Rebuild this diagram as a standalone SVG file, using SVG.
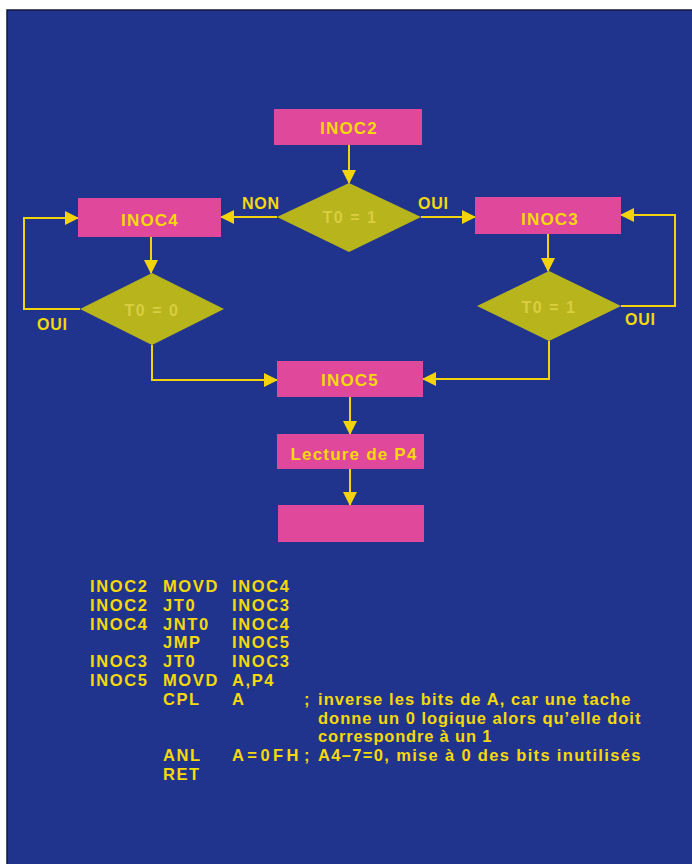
<svg xmlns="http://www.w3.org/2000/svg" width="692" height="864" viewBox="0 0 692 864">
<defs>
<marker id="ah" viewBox="0 0 14 14" refX="13" refY="7" markerWidth="14" markerHeight="14" markerUnits="userSpaceOnUse" orient="auto">
<path d="M0,0 L14,7 L0,14 Z" fill="#f2d30c"/>
</marker>
<style>
.box{fill:#e0489b}
.dia{fill:#b8b41c}
.lbl{font-family:"Liberation Sans",Arial,sans-serif;font-weight:bold;font-size:17px;fill:#f5d90a;letter-spacing:1.2px;text-anchor:middle}
.dtx{font-family:"Liberation Sans",Arial,sans-serif;font-weight:bold;font-size:16px;fill:#d8ce40;letter-spacing:1.5px;text-anchor:middle}
.yn{font-family:"Liberation Sans",Arial,sans-serif;font-weight:bold;font-size:16px;fill:#f5d90a;letter-spacing:0.8px}
.code{font-family:"Liberation Sans",Arial,sans-serif;font-weight:bold;font-size:16.5px;fill:#f5d90a;letter-spacing:1.6px}
.ln{fill:none;stroke:#f2d30c;stroke-width:2}
</style>
</defs>
<rect x="0" y="0" width="692" height="864" fill="#ffffff"/>
<rect x="7" y="10" width="686" height="856" fill="#21348d" stroke="#10183a" stroke-width="1.5"/>

<g id="connectors">
<path class="ln" d="M349,145 L349,183" marker-end="url(#ah)"/>
<path class="ln" d="M277,217 L221,217" marker-end="url(#ah)"/>
<path class="ln" d="M421,217 L475,217" marker-end="url(#ah)"/>
<path class="ln" d="M151,237 L151,273" marker-end="url(#ah)"/>
<path class="ln" d="M80,309 L24,309 L24,218 L78,218" marker-end="url(#ah)"/>
<path class="ln" d="M152,345 L152,380 L277,380" marker-end="url(#ah)"/>
<path class="ln" d="M548,234 L548,271" marker-end="url(#ah)"/>
<path class="ln" d="M621,306 L675,306 L675,215 L621,215" marker-end="url(#ah)"/>
<path class="ln" d="M549,341 L549,379 L423,379" marker-end="url(#ah)"/>
<path class="ln" d="M350,397 L350,434" marker-end="url(#ah)"/>
<path class="ln" d="M350,469 L350,505" marker-end="url(#ah)"/>
<text class="yn" x="242" y="209">NON</text>
<text class="yn" x="418" y="209">OUI</text>
<text class="yn" x="37" y="330">OUI</text>
<text class="yn" x="625" y="325">OUI</text>
</g>

<g id="inoc2"><rect class="box" x="274" y="109" width="148" height="36"/><text class="lbl" x="349" y="134">INOC2</text></g>
<g id="test1"><polygon class="dia" points="349,183 421,217 349,252 277,217"/><text class="dtx" x="350" y="223">T0 = 1</text></g>
<g id="inoc4"><rect class="box" x="78" y="198" width="143" height="39"/><text class="lbl" x="150" y="226">INOC4</text></g>
<g id="inoc3"><rect class="box" x="475" y="197" width="146" height="37"/><text class="lbl" x="550" y="225">INOC3</text></g>
<g id="test2"><polygon class="dia" points="152,273 224,309 152,345 80,309"/><text class="dtx" x="152" y="316">T0 = 0</text></g>
<g id="test3"><polygon class="dia" points="549,271 621,306 549,341 477,306"/><text class="dtx" x="549" y="313">T0 = 1</text></g>
<g id="inoc5"><rect class="box" x="277" y="361" width="146" height="36"/><text class="lbl" x="350" y="386">INOC5</text></g>
<g id="lecture"><rect class="box" x="277" y="434" width="147" height="35"/><text class="lbl" x="354" y="460">Lecture de P4</text></g>
<g id="end"><rect class="box" x="278" y="505" width="146" height="37"/></g>

<g id="listing">
<text class="code" x="90" y="592">INOC2</text><text class="code" x="163" y="592">MOVD</text><text class="code" x="232" y="592">INOC4</text>
<text class="code" x="90" y="610.8">INOC2</text><text class="code" x="163" y="610.8">JT0</text><text class="code" x="232" y="610.8">INOC3</text>
<text class="code" x="90" y="629.6">INOC4</text><text class="code" x="163" y="629.6">JNT0</text><text class="code" x="232" y="629.6">INOC4</text>
<text class="code" x="163" y="648.4">JMP</text><text class="code" x="232" y="648.4">INOC5</text>
<text class="code" x="90" y="667.2">INOC3</text><text class="code" x="163" y="667.2">JT0</text><text class="code" x="232" y="667.2">INOC3</text>
<text class="code" x="90" y="686">INOC5</text><text class="code" x="163" y="686">MOVD</text><text class="code" x="232" y="686">A,P4</text>
<text class="code" x="163" y="704.8">CPL</text><text class="code" x="232" y="704.8">A</text>
<text class="code" x="304" y="704.8">;</text><text class="code" x="318" y="704.8" textLength="314" lengthAdjust="spacing">inverse les bits de A, car une tache</text>
<text class="code" x="318" y="723.6" textLength="324" lengthAdjust="spacing">donne un 0 logique alors qu’elle doit</text>
<text class="code" x="318" y="742.4" textLength="175" lengthAdjust="spacing">correspondre à un 1</text>
<text class="code" x="163" y="761.2">ANL</text><text class="code" x="232" y="761.2" textLength="68" lengthAdjust="spacing">A=0FH</text>
<text class="code" x="304" y="761.2">;</text><text class="code" x="318" y="761.2" textLength="324" lengthAdjust="spacing">A4–7=0, mise à 0 des bits inutilisés</text>
<text class="code" x="163" y="780">RET</text>
</g>
</svg>
